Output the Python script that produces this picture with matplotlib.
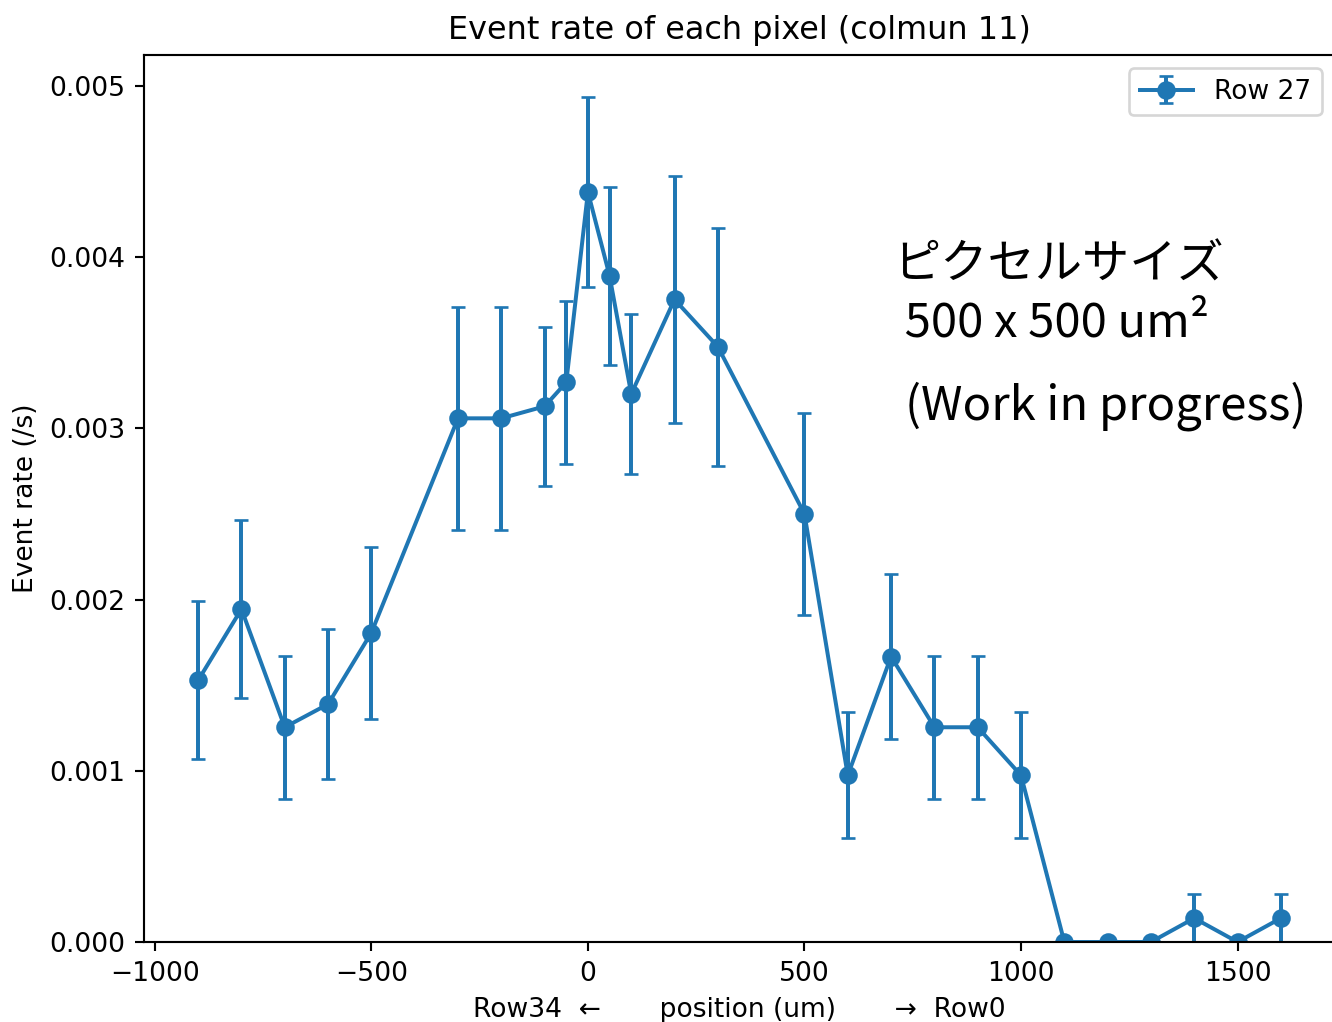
import matplotlib
matplotlib.use('Agg')
import matplotlib.pyplot as plt

# positions along the column (um) and measured event rates (/s) with errors
positions = [-900, -800, -700, -600, -500, -300, -200, -100, -50, 0, 50, 100, 200, 300,
             500, 600, 700, 800, 900, 1000, 1100, 1200, 1300, 1400, 1500, 1600]
rates = [1.528e-3, 1.944e-3, 1.254e-3, 1.389e-3, 1.806e-3, 3.058e-3, 3.058e-3, 3.128e-3,
         3.268e-3, 4.380e-3, 3.890e-3, 3.200e-3, 3.752e-3, 3.476e-3, 2.500e-3, 0.973e-3,
         1.667e-3, 1.254e-3, 1.254e-3, 0.973e-3, 0.0, 0.0, 0.0, 0.139e-3, 0.0, 0.139e-3]
errors = [0.461e-3, 0.520e-3, 0.417e-3, 0.439e-3, 0.501e-3, 0.652e-3, 0.652e-3, 0.466e-3,
          0.477e-3, 0.553e-3, 0.520e-3, 0.470e-3, 0.721e-3, 0.695e-3, 0.589e-3, 0.368e-3,
          0.481e-3, 0.417e-3, 0.417e-3, 0.368e-3, 0.0, 0.0, 0.0, 0.139e-3, 0.0, 0.139e-3]

DPI = 191
fig = plt.figure(figsize=(1332 / DPI, 1022 / DPI), dpi=DPI)
ax = fig.add_axes([144 / 1332, 1 - 942 / 1022, (1335 - 144) / 1332, (942 - 55) / 1022])

ax.errorbar(positions, rates, yerr=errors, fmt='-o', capsize=2.5, label='Row 27')
ax.set_ylim(bottom=0)

ax.set_title('Event rate of each pixel (colmun 11)')
ax.set_xlabel('Row34  \u2190       position (um)       \u2192  Row0')
ax.set_ylabel('Event rate (/s)')
ax.legend(loc='upper right')

jp = ['Noto Sans CJK JP', 'DejaVu Sans']
ax.text(706, 3.785e-3, 'ピクセルサイズ\n 500 x 500 um²', family=jp, fontsize=17.8,
        ha='left', va='center', linespacing=1.25)
ax.text(732, 3.13e-3, '(Work in progress)', family=jp, fontsize=17.8,
        ha='left', va='center')

fig.savefig('out.png', dpi=DPI)
